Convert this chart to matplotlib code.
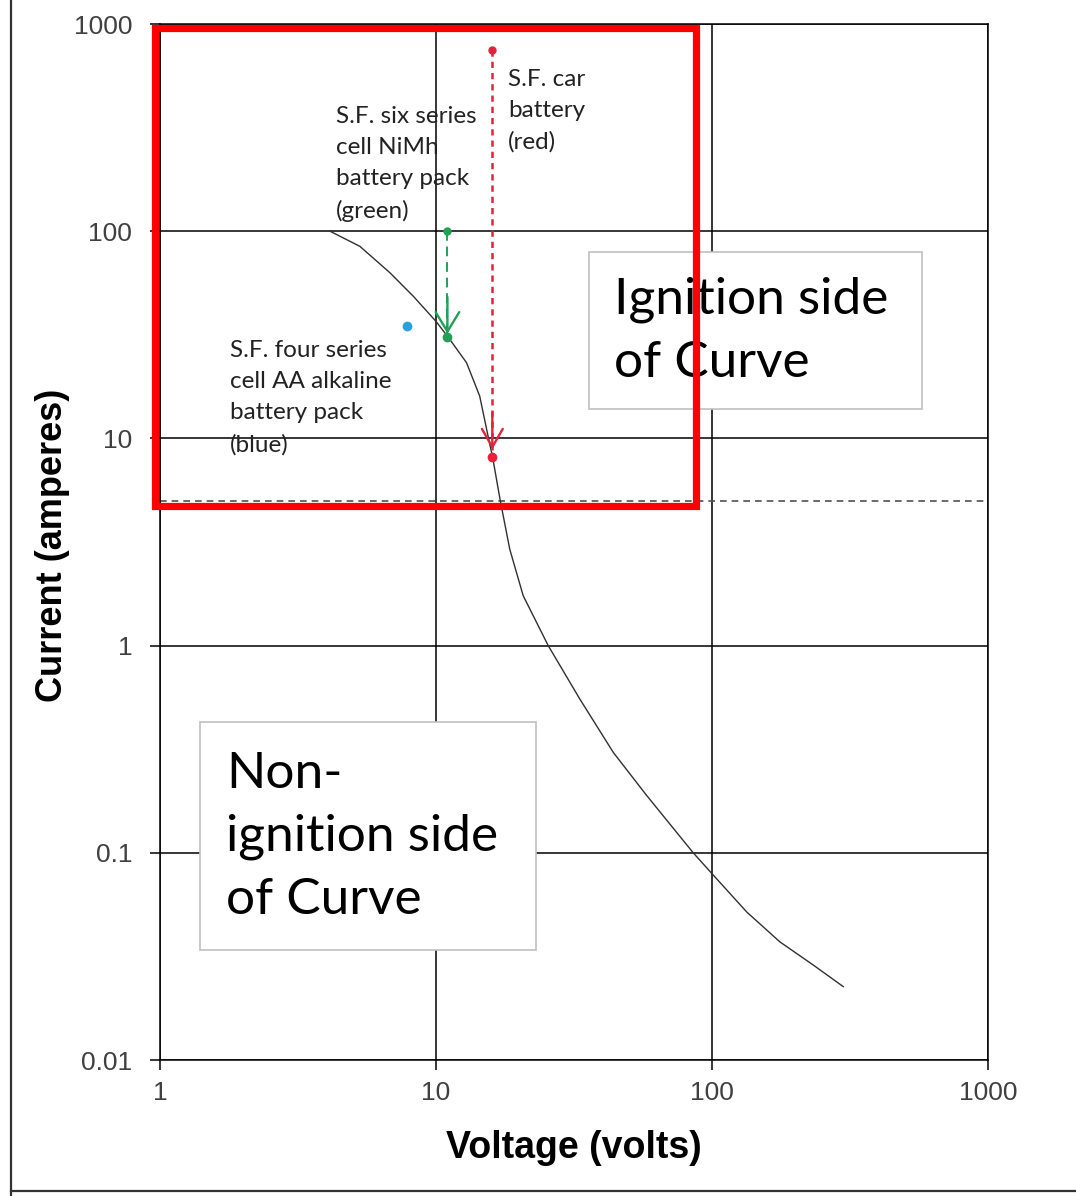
import matplotlib
matplotlib.use('Agg')
import matplotlib.pyplot as plt
from matplotlib.patches import Rectangle
from matplotlib.lines import Line2D

# Ignition curve (volts, amperes)
curve_volts = [4.13, 5.3, 6.81, 8.28, 10.0, 11.05, 12.9, 14.4, 15.5, 16.05, 17.06, 18.5,
               20.7, 25.5, 33.2, 43.9, 58.0, 85.5, 100.0, 133.6, 176.0, 233.0, 299.0]
curve_amps = [100, 84.5, 63, 48.5, 36.7, 30.9, 23.2, 16.0, 10.0, 8.07, 5.08, 2.92,
              1.74, 1.0, 0.552, 0.305, 0.189, 0.1, 0.0793, 0.0518, 0.0372, 0.0287, 0.0226]

# Battery short-circuit points
blue_point = (7.85, 35.0)
green_start = (11.0, 100.0)
green_end = (11.0, 31.0)
red_start = (16.0, 750.0)
red_end = (16.0, 8.1)

limit_amps = 5.0
xticks = [1, 10, 100, 1000]
yticks = [0.01, 0.1, 1, 10, 100, 1000]
ytick_labels = ['0.01', '0.1', '1', '10', '100', '1000']
xtick_labels = ['1', '10', '100', '1000']

GREEN = '#22a055'
RED = '#e8203a'
BLUE = '#2a9fe0'
AXIS_FONT = ['Liberation Sans', 'DejaVu Sans']
NOTE_FONT = ['Lato', 'DejaVu Sans']

fig = plt.figure(figsize=(10.76, 11.96), dpi=100)
ax = fig.add_axes([160 / 1076, 1 - 1060 / 1196, 828 / 1076, 1036 / 1196])
ax.set_xscale('log')
ax.set_yscale('log')
ax.set_xlim(1, 1000)
ax.set_ylim(0.01, 1000)

# grid (black, major only)
ax.grid(True, which='major', color='black', linewidth=1.1, zorder=0)
ax.minorticks_off()
for sp in ax.spines.values():
    sp.set_linewidth(1.1)
    sp.set_color('black')

ax.set_xticks(xticks)
ax.set_xticklabels(xtick_labels, family=AXIS_FONT, fontsize=19, color='#404040')
ax.set_yticks(yticks)
ax.set_yticklabels(ytick_labels, family=AXIS_FONT, fontsize=19, color='#404040')
ax.tick_params(axis='x', length=7, width=1.1, pad=8)
ax.tick_params(axis='y', length=7, width=1.1, pad=13)

ax.set_xlabel('Voltage (volts)', fontsize=27, fontweight='bold', family=AXIS_FONT, va='center')
ax.xaxis.set_label_coords(0.5, -0.085)
ax.set_ylabel('Current (amperes)', fontsize=26, fontweight='bold', family=AXIS_FONT, va='center')
ax.yaxis.set_label_coords(-0.130, 0.497)

# dashed limit line
ax.axhline(limit_amps, color='#505050', linestyle=(0, (4, 3)), linewidth=1.2, zorder=2)

# ignition curve
ax.plot(curve_volts, curve_amps, color='#303030', linewidth=1.0, zorder=3)

# text boxes
ax.add_patch(Rectangle((0.5181, 0.6284), 0.4022, 0.1515, transform=ax.transAxes,
                       facecolor='white', edgecolor='#c0c0c0', linewidth=1.2, zorder=4))
ax.text(0.548, 0.756, 'Ignition side\nof Curve', transform=ax.transAxes, family=NOTE_FONT,
        fontsize=37, va='top', ha='left', linespacing=1.45, zorder=5)
ax.add_patch(Rectangle((0.0483, 0.1062), 0.4058, 0.2201, transform=ax.transAxes,
                       facecolor='white', edgecolor='#c0c0c0', linewidth=1.2, zorder=4))
ax.text(0.0797, 0.298, 'Non-\nignition side\nof Curve', transform=ax.transAxes, family=NOTE_FONT,
        fontsize=37, va='top', ha='left', linespacing=1.45, zorder=5)

# battery annotations
note_kw = dict(transform=ax.transAxes, family=NOTE_FONT, fontsize=17.5, va='top', ha='left',
               linespacing=1.6, color='#222222', zorder=6)
ax.text(0.420, 0.957, 'S.F. car\nbattery\n(red)', **note_kw)
ax.text(0.2126, 0.921, 'S.F. six series\ncell NiMh\nbattery pack\n(green)', **note_kw)
ax.text(0.0845, 0.695, 'S.F. four series\ncell AA alkaline\nbattery pack\n(blue)', **note_kw)

# arrows
ax.plot([green_start[0], green_end[0]], [green_start[1], green_end[1]], color=GREEN,
        linestyle=(0, (5, 3)), linewidth=1.4, zorder=6)
ax.annotate('', xy=green_end, xytext=(green_end[0], green_end[1] * 1.6),
            arrowprops=dict(arrowstyle='->,head_length=1.4,head_width=0.85', color=GREEN, lw=1.7),
            zorder=7)
ax.plot([red_start[0], red_end[0]], [red_start[1], red_end[1]], color=RED,
        linestyle=(0, (2.5, 2)), linewidth=1.8, zorder=6)
ax.annotate('', xy=(red_end[0], red_end[1] * 1.06), xytext=(red_end[0], red_end[1] * 1.7),
            arrowprops=dict(arrowstyle='->,head_length=1.3,head_width=0.75', color=RED, lw=1.7),
            zorder=7)

ax.plot(*blue_point, 'o', color=BLUE, markersize=6, zorder=8)
ax.plot(*green_start, 'o', color=GREEN, markersize=5, zorder=8)
ax.plot(*green_end, 'o', color=GREEN, markersize=6, zorder=8)
ax.plot(*red_start, 'o', color=RED, markersize=5, zorder=8)
ax.plot(*red_end, 'o', color=RED, markersize=6, zorder=8)

# red highlight frame and outer border
fig.patches.append(Rectangle((0.1445, 0.5773), 0.5028, 0.3989, transform=fig.transFigure,
                             fill=False, edgecolor='#ff0000', linewidth=5.2, zorder=10))
fig.lines.append(Line2D([11 / 1076, 11 / 1076], [0, 1], transform=fig.transFigure,
                        color='#333333', linewidth=1.6))
fig.lines.append(Line2D([11 / 1076, 1], [1 - 1191 / 1196] * 2, transform=fig.transFigure,
                        color='#333333', linewidth=1.6))

fig.savefig('out.png', dpi=100)
